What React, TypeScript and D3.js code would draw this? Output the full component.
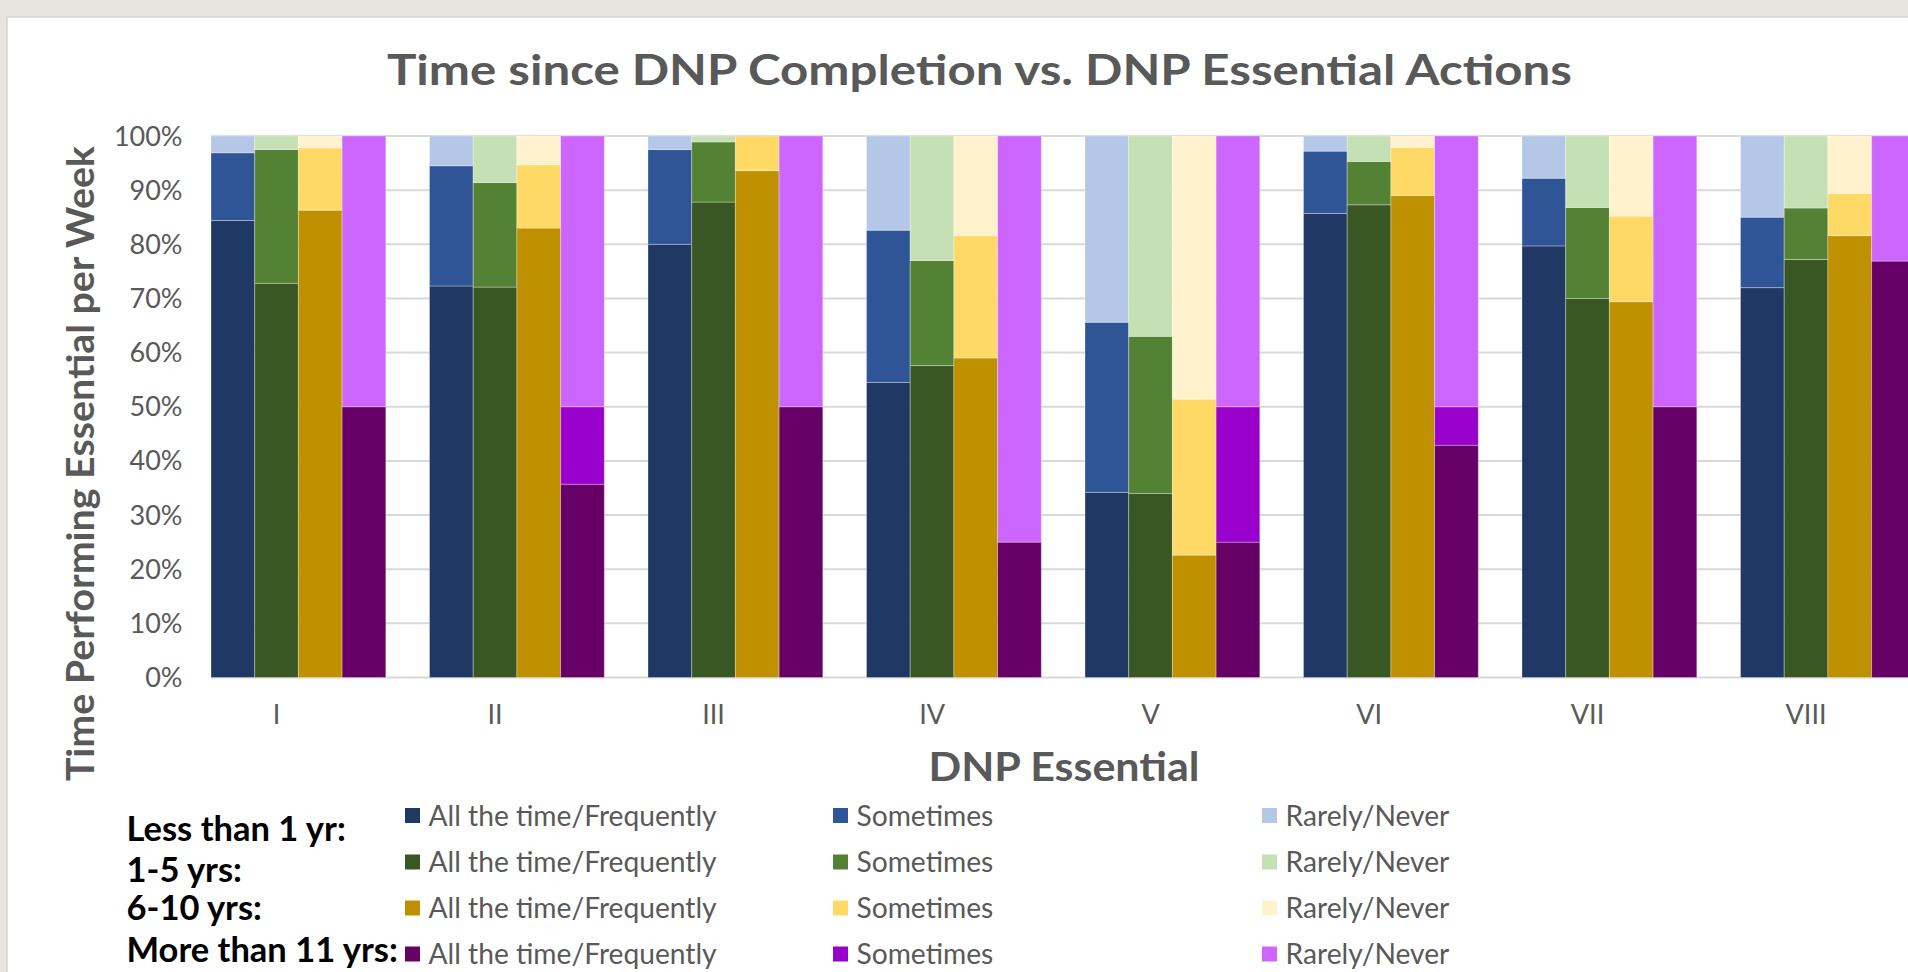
import React from 'react';
import * as d3 from 'd3';

// DNP essentials on the x axis
const essentials = ['I', 'II', 'III', 'IV', 'V', 'VI', 'VII', 'VIII'];
const cohorts = ['Less than 1 yr:', '1-5 yrs:', '6-10 yrs:', 'More than 11 yrs:'];
const responses = ['All the time/Frequently', 'Sometimes', 'Rarely/Never'];
const yTicks = [0, 10, 20, 30, 40, 50, 60, 70, 80, 90, 100];

// percent of respondents per essential (segment sizes)
const lt1Frequent = [84.4, 72.3, 80.0, 54.5, 34.2, 85.7, 79.7, 72.0];
const lt1Sometimes = [12.5, 22.2, 17.5, 28.1, 31.4, 11.5, 12.5, 13.0];
const lt1Rarely = [3.1, 5.5, 2.5, 17.4, 34.4, 2.8, 7.8, 15.0];

const y1to5Frequent = [72.8, 72.1, 87.8, 57.6, 34.0, 87.3, 70.0, 77.2];
const y1to5Sometimes = [24.7, 19.3, 11.1, 19.4, 29.0, 8.0, 16.8, 9.5];
const y1to5Rarely = [2.5, 8.6, 1.1, 23.0, 37.0, 4.7, 13.2, 13.3];

const y6to10Frequent = [86.3, 83.0, 93.6, 59.0, 22.6, 89.0, 69.4, 81.6];
const y6to10Sometimes = [11.5, 11.7, 6.4, 22.6, 28.8, 8.9, 15.8, 7.8];
const y6to10Rarely = [2.2, 5.3, 0, 18.4, 48.6, 2.1, 14.8, 10.6];

const gt11Frequent = [50.0, 35.7, 50.0, 25.0, 25.0, 42.9, 50.0, 76.9];
const gt11Sometimes = [0, 14.3, 0, 0, 25.0, 7.1, 0, 0];
const gt11Rarely = [50.0, 50.0, 50.0, 75.0, 50.0, 50.0, 50.0, 23.1];

const cohortSeries = [
  [lt1Frequent, lt1Sometimes, lt1Rarely],
  [y1to5Frequent, y1to5Sometimes, y1to5Rarely],
  [y6to10Frequent, y6to10Sometimes, y6to10Rarely],
  [gt11Frequent, gt11Sometimes, gt11Rarely],
];

const cohortColors = [
  ['#203864', '#2F5597', '#B4C7E7'],
  ['#385723', '#548235', '#C5E0B4'],
  ['#BF9000', '#FFD966', '#FFF2CC'],
  ['#660066', '#9900CC', '#CC66FF'],
];

const W = 1908;
const H = 972;
const gray = '#595959';

const App: React.FC = () => {
  const bandW = 218.5;
  const x0 = 167.3;
  const x = d3.scaleBand<string>()
    .domain(essentials)
    .range([x0, x0 + bandW * essentials.length])
    .padding(0);
  // first slot in each band is an empty spacer series
  const slot = d3.scaleBand<string>()
    .domain(['spacer', ...cohorts])
    .range([0, x.bandwidth()])
    .padding(0);
  const y = d3.scaleLinear().domain([0, 100]).range([677.5, 136]);

  const plotLeft = x0 + slot.bandwidth();

  const stacks = cohortSeries.map(series => {
    const rows = essentials.map((e, i) => ({ key: e, f: series[0][i], s: series[1][i], r: series[2][i] }));
    return d3.stack<any>().keys(['f', 's', 'r'])(rows);
  });

  const legendCols = [405, 833, 1262];
  const legendRows = [815.5, 862, 908, 954];
  const cohortBaselines = [841, 882, 920, 962];

  return (
    <svg width={W} height={H} style={{ display: 'block' }} fontFamily="Lato, 'Open Sans', sans-serif">
      <style>{'body{margin:0;overflow:hidden}'}</style>
      <rect width={W} height={H} fill="#e8e4df" />
      <rect x={7} y={17} width={W} height={H} fill="#ffffff" stroke="#d6d3cf" strokeWidth={1.5} />

      <text x={979.5} y={85} textAnchor="middle" fontSize={42} fontWeight="bold" fill={gray}
        textLength={1185} lengthAdjust="spacingAndGlyphs">
        Time since DNP Completion vs. DNP Essential Actions
      </text>

      {/* gridlines */}
      <g stroke="#d9d9d9" strokeWidth={2}>
        {yTicks.map(t => (
          <line key={t} x1={plotLeft} x2={W} y1={y(t)} y2={y(t)} />
        ))}
      </g>

      {/* y tick labels */}
      <g fontSize={27} fill={gray} textAnchor="end">
        {yTicks.map(t => (
          <text key={t} x={182.5} y={y(t) + 9.5}>{t}%</text>
        ))}
      </g>

      {/* bars */}
      {stacks.map((stack, c) => (
        <g key={c}>
          {stack.map((layer, k) => (
            <g key={k} fill={cohortColors[c][k]}>
              {layer.map((d, i) => (
                d[1] - d[0] > 0 ? (
                  <rect key={i}
                    x={(x(essentials[i]) as number) + (slot(cohorts[c]) as number)}
                    width={slot.bandwidth()}
                    y={y(d[1])}
                    height={y(d[0]) - y(d[1])}
                    stroke="#ffffff" strokeOpacity={0.3} strokeWidth={1} />
                ) : null
              ))}
            </g>
          ))}
        </g>
      ))}

      {/* x tick labels */}
      <g fontSize={27} fill={gray} textAnchor="middle">
        {essentials.map(e => (
          <text key={e} x={(x(e) as number) + x.bandwidth() / 2} y={724}>{e}</text>
        ))}
      </g>

      <text x={1064} y={781} textAnchor="middle" fontSize={41} fontWeight="bold" fill={gray}
        textLength={271} lengthAdjust="spacingAndGlyphs">DNP Essential</text>

      <text transform="translate(94,463.6) rotate(-90)" textAnchor="middle" fontSize={38} fontWeight="bold" fill={gray}
        textLength={635} lengthAdjust="spacingAndGlyphs">Time Performing Essential per Week</text>

      {/* legend */}
      {cohorts.map((c, ci) => (
        <text key={c} x={126.5} y={cohortBaselines[ci]} fontSize={34.5} fontWeight="bold" fill="#000">{c}</text>
      ))}
      {cohorts.map((c, ci) => (
        <g key={c}>
          {responses.map((r, ri) => (
            <g key={r}>
              <rect x={legendCols[ri]} y={legendRows[ci] - 7.5} width={15} height={15} fill={cohortColors[ci][ri]} />
              <text x={legendCols[ri] + 23.5} y={legendRows[ci] + 10} fontSize={28.2} fill={gray}>{r}</text>
            </g>
          ))}
        </g>
      ))}
    </svg>
  );
};

export default App;
